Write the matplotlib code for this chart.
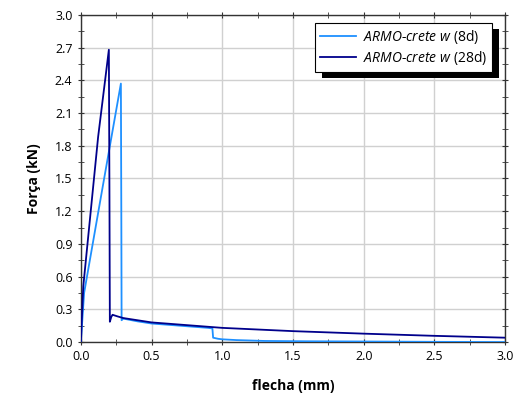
import matplotlib.pyplot as plt
import matplotlib.patheffects as pe
from matplotlib.ticker import MultipleLocator, FormatStrFormatter
import numpy as np

# load-deflection curves, 8 days
x_8d = [0.0, 0.023, 0.158, 0.283, 0.286, 0.288, 0.30, 0.40, 0.50, 0.60,
        0.75, 0.90, 0.93, 0.935, 0.97, 1.00, 1.10, 1.30, 1.60, 2.00, 2.50, 3.00]
f_8d = [0.0, 0.45, 1.45, 2.37, 1.20, 0.20, 0.215, 0.19, 0.17, 0.16,
        0.145, 0.13, 0.125, 0.04, 0.03, 0.025, 0.018, 0.01, 0.007, 0.005, 0.002, 0.0]

# load-deflection curves, 28 days
x_28d = [0.0, 0.017, 0.122, 0.198, 0.202, 0.205, 0.215, 0.224, 0.26, 0.30,
         0.40, 0.50, 0.75, 1.00, 1.25, 1.50, 2.00, 2.50, 3.00]
f_28d = [0.0, 0.51, 1.88, 2.68, 1.40, 0.186, 0.23, 0.25, 0.235, 0.22,
         0.20, 0.18, 0.155, 0.13, 0.115, 0.10, 0.077, 0.057, 0.04]

labels = ["$\\it{ARMO\\text{-}crete\\ w}$ (8d)", "$\\it{ARMO\\text{-}crete\\ w}$ (28d)"]

plt.rcParams['font.family'] = ['Open Sans', 'DejaVu Sans']
plt.rcParams['mathtext.fontset'] = 'custom'
plt.rcParams['mathtext.it'] = 'Open Sans:italic'
plt.rcParams['mathtext.rm'] = 'Open Sans'

fig = plt.figure(figsize=(5.15, 4.01), dpi=100)
ax = fig.add_axes([0.157, 0.147, 0.824, 0.816])

ax.plot(x_8d, f_8d, color='#1e90ff', lw=1.3, label=labels[0], zorder=3)
ax.plot(x_28d, f_28d, color='#00008b', lw=1.3, label=labels[1], zorder=3)

ax.set_xlim(0, 3.0)
ax.set_ylim(0, 3.0)
ax.xaxis.set_major_locator(MultipleLocator(0.5))
ax.xaxis.set_minor_locator(MultipleLocator(0.25))
ax.yaxis.set_major_locator(MultipleLocator(0.3))
ax.yaxis.set_minor_locator(MultipleLocator(0.15))
ax.xaxis.set_major_formatter(FormatStrFormatter('%.1f'))
ax.yaxis.set_major_formatter(FormatStrFormatter('%.1f'))

ax.grid(True, which='major', color='#d0d0d0', lw=1.0, zorder=0)
ax.set_axisbelow(True)
ax.tick_params(which='both', direction='inout', top=True, right=True,
               labelsize=9, color='#333333')
ax.tick_params(which='major', length=5)
ax.tick_params(which='minor', length=4)
for s in ax.spines.values():
    s.set_color('#333333')
    s.set_linewidth(1.0)

ax.set_xlabel('flecha (mm)', fontsize=10, fontweight='bold', labelpad=11)
ax.set_ylabel('Força (kN)', fontsize=10, fontweight='bold', labelpad=10)

leg = ax.legend(loc='upper right', bbox_to_anchor=(0.969, 0.976), fontsize=10,
                fancybox=False, framealpha=1.0, edgecolor='black',
                handlelength=2.6, borderpad=0.35, labelspacing=0.25,
                handletextpad=0.5, borderaxespad=0)
frame = leg.get_frame()
frame.set_linewidth(0.8)
frame.set_path_effects([
    pe.SimplePatchShadow(offset=(5, -4.5), shadow_rgbFace='black', alpha=1.0),
    pe.Normal()])

fig.savefig('out.png', dpi=100)
